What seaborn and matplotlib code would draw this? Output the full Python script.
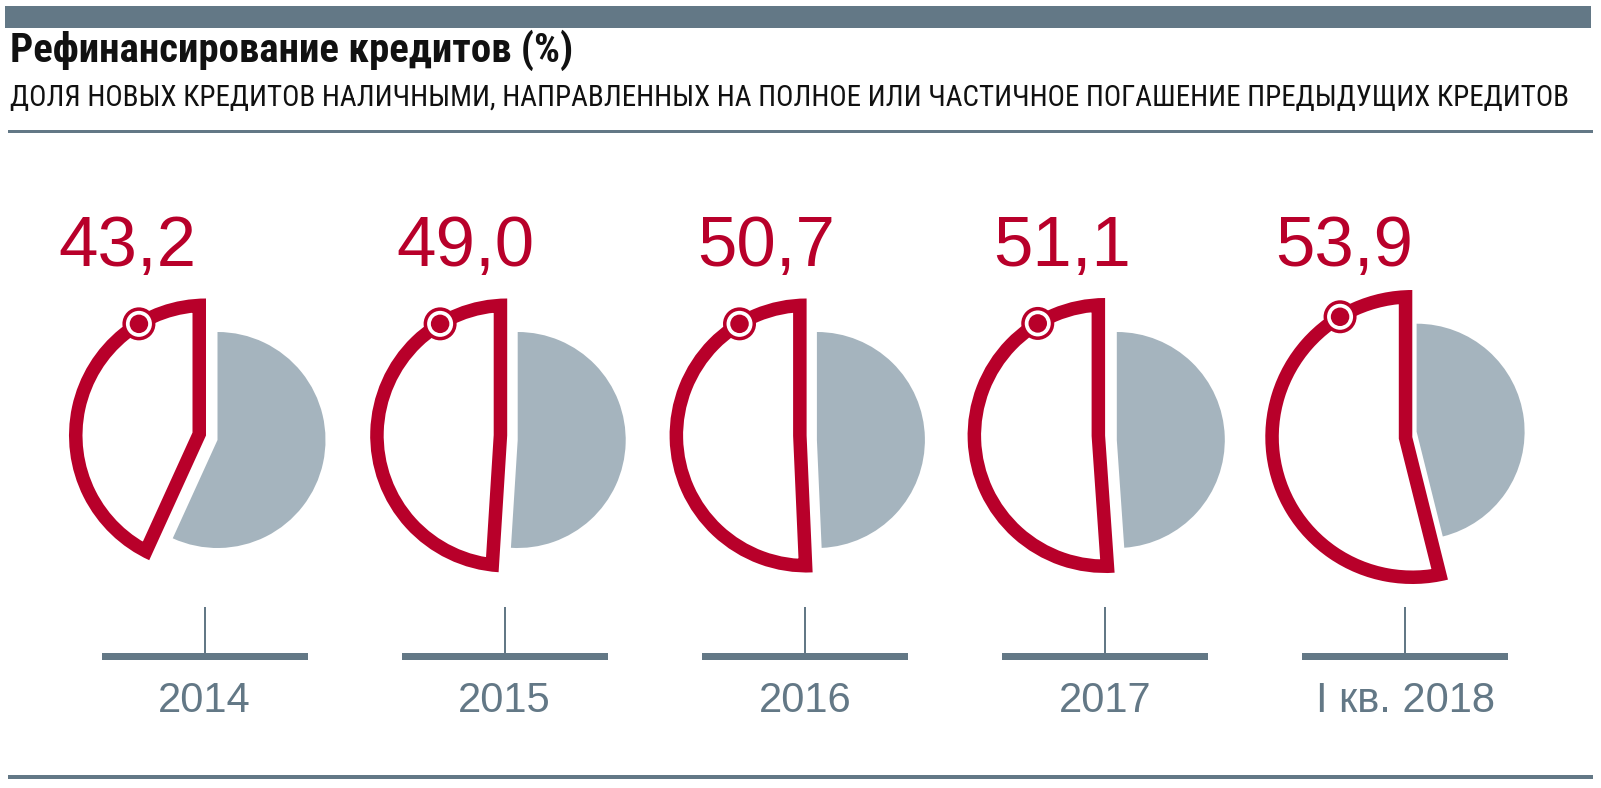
import matplotlib
matplotlib.use("Agg")
import matplotlib.pyplot as plt
import seaborn as sns
import numpy as np
import pandas as pd
from matplotlib.patches import Wedge, Rectangle, Circle
from matplotlib import font_manager as fm

# ---------------- data ----------------
categories = ["2014", "2015", "2016", "2017", "I кв. 2018"]
refinance_share = [43.2, 49.0, 50.7, 51.1, 53.9]
value_labels = ["43,2", "49,0", "50,7", "51,1", "53,9"]
title = "Рефинансирование кредитов (%)"
subtitle = ("ДОЛЯ НОВЫХ КРЕДИТОВ НАЛИЧНЫМИ, НАПРАВЛЕННЫХ НА ПОЛНОЕ "
            "ИЛИ ЧАСТИЧНОЕ ПОГАШЕНИЕ ПРЕДЫДУЩИХ КРЕДИТОВ")

# ---------------- style ----------------
RED = "#B8002A"
GREY = "#A5B4BE"
SLATE = "#637886"

sns.set_theme(style="white")
fonts = fm.fontManager.ttflist
names = {f.name for f in fonts}
cond_kw = {}
if "Roboto Condensed" in names:
    cond_kw = dict(family=["Roboto Condensed", "DejaVu Sans"])
elif "Liberation Sans Narrow" in names:
    cond_kw = dict(family=["Liberation Sans Narrow", "DejaVu Sans"])
elif any(f.name == "DejaVu Sans" and str(f.stretch) in ("condensed", "semi-condensed", "87.5", "75")
         for f in fonts):
    cond_kw = dict(family=["DejaVu Sans"], fontstretch="condensed")
else:
    cond_kw = dict(family=["Roboto", "DejaVu Sans"])
plt.rcParams["font.family"] = ["Liberation Sans", "DejaVu Sans"]

W, H = 1601, 788
DPI = 100
PT = 72.0 / DPI  # pixel -> point

fig = plt.figure(figsize=(W / DPI, H / DPI), dpi=DPI)
ax = fig.add_axes([0, 0, 1, 1])

# ---------------- layout ----------------
X0, STEP = 204.5, 300.2
red_dx = [1.5, 2.5, 1.7, 0.0, 7.0]
red_cy = [435.5, 435.5, 435.5, 435.5, 437.0]
red_r = [137.0, 137.0, 137.0, 137.5, 147.0]
grey_dx = [13.0, 13.0, 12.0, 11.7, 11.3]
grey_cy = [440.0, 440.0, 440.0, 440.0, 431.7]
GREY_R = 108.0
STROKE = 13.5
label_dx = [-79, -42, -40, -43, -68]
MARK_ANGLE = 121.0

# header / footer rules
ax.add_patch(Rectangle((5, 6), 1586, 22, color=SLATE, lw=0))
ax.add_patch(Rectangle((8, 129.5), 1585, 3, color=SLATE, lw=0))
ax.add_patch(Rectangle((8, 774.5), 1585, 4, color=SLATE, lw=0))

t1 = ax.text(10, 62, title, fontsize=20, fontweight="bold", color="#111111",
             va="baseline", ha="left", **cond_kw)
t2 = ax.text(10, 106, subtitle, fontsize=17, color="#111111",
             va="baseline", ha="left", **cond_kw)

mark_x, mark_y = [], []
for i, (cat, v, lab) in enumerate(zip(categories, refinance_share, value_labels)):
    tx = X0 + STEP * i
    cx, cy, R = tx + red_dx[i], red_cy[i], red_r[i]
    ang = 3.6 * v
    # red outlined wedge (stroke kept inside the wedge via clipping)
    clip = Wedge((cx, cy), R, -90 - ang, -90, transform=ax.transData)
    red = Wedge((cx, cy), R, -90 - ang, -90, facecolor="white",
                edgecolor=RED, lw=2 * STROKE * PT, joinstyle="miter", zorder=3)
    ax.add_patch(red)
    red.set_clip_path(clip)
    # grey remainder wedge
    gx, gy = tx + grey_dx[i], grey_cy[i]
    ax.add_patch(Wedge((gx, gy), GREY_R, -90, 270 - ang, facecolor=GREY,
                       edgecolor="none", zorder=2))
    # marker position on the arc
    rm = R - STROKE / 2
    a = np.deg2rad(MARK_ANGLE)
    mx, my = cx + rm * np.cos(a), cy - rm * np.sin(a)
    mark_x.append(mx)
    mark_y.append(my)
    ax.add_patch(Circle((mx, my), 16.5, facecolor=RED, edgecolor="none", zorder=5))
    ax.add_patch(Circle((mx, my), 13.0, facecolor="white", edgecolor="none", zorder=6))
    # value label
    ax.text(cx + label_dx[i], 266, lab, fontsize=51, color=RED,
            ha="center", va="baseline")
    # axis bar + tick + category
    ax.add_patch(Rectangle((tx - 103, 653), 206, 6.5, color=SLATE, lw=0))
    ax.plot([tx, tx], [607, 653], color=SLATE, lw=2 * PT, solid_capstyle="butt")
    ax.text(tx, 712, cat, fontsize=30, color=SLATE, ha="center", va="baseline")

marks = pd.DataFrame({"x": mark_x, "y": mark_y})
sns.scatterplot(data=marks, x="x", y="y", ax=ax, color=RED, edgecolor="none",
                linewidth=0, zorder=7, legend=False, s=(18.5 * PT) ** 2)

ax.set_xlim(0, W)
ax.set_ylim(H, 0)
ax.axis("off")

# fit header text widths to the reference
fig.canvas.draw()
r = fig.canvas.get_renderer()
for t, target in ((t1, 562), (t2, 1555)):
    w = t.get_window_extent(r).width
    t.set_fontsize(t.get_fontsize() * target / w)

fig.savefig("out.png", dpi=DPI, facecolor="white")
